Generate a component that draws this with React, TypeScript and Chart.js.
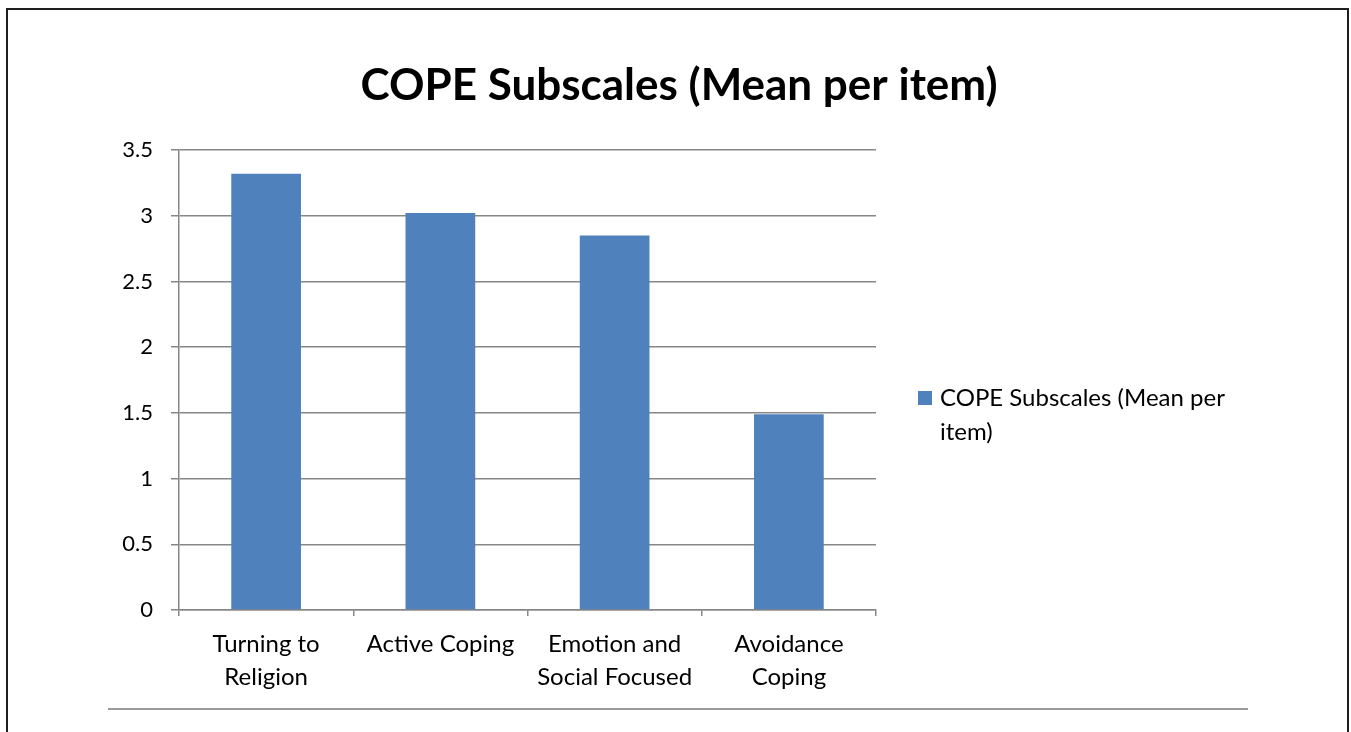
import { useEffect, useRef } from "react";
import { Chart, registerables } from "chart.js";

Chart.register(...registerables);

// Chart content
const chartTitle = "COPE Subscales (Mean per item)";
const seriesLabel = "COPE Subscales (Mean per item)";
const categories = [
  ["Turning to", "Religion"],
  ["Active Coping"],
  ["Emotion and", "Social Focused"],
  ["Avoidance", "Coping"],
];
const seriesValues = [3.32, 3.02, 2.85, 1.49];
const yTickValues = [0, 0.5, 1, 1.5, 2, 2.5, 3, 3.5];
const yTickLabels = ["0", "0.5", "1", "1.5", "2", "2.5", "3", "3.5"];

const FONT = "Lato, 'Open Sans', sans-serif";
const BAR_COLOR = "#4F81BD";
const GRID_COLOR = "#878787";

// Draws the centred title, the wrapped side legend and the footer rule.
const decorPlugin = {
  id: "decor",
  afterDraw(chart: any) {
    const ctx = chart.ctx as CanvasRenderingContext2D;
    const ds = chart.data.datasets[0];
    ctx.save();

    // title
    ctx.fillStyle = "#000";
    ctx.font = `bold 44px ${FONT}`;
    ctx.textAlign = "center";
    ctx.textBaseline = "middle";
    ctx.fillText(chartTitle, 679, 86);

    // legend: colour box + wrapped label
    const boxX = 918;
    const lineH = 34;
    ctx.font = `24px ${FONT}`;
    ctx.textAlign = "left";
    const words = String(ds.label).split(" ");
    const lines: string[] = [];
    let cur = "";
    for (const w of words) {
      const t = cur ? cur + " " + w : w;
      if (ctx.measureText(t).width > 300 && cur) {
        lines.push(cur);
        cur = w;
      } else cur = t;
    }
    if (cur) lines.push(cur);
    const firstY = 398;
    ctx.fillStyle = ds.backgroundColor;
    ctx.fillRect(boxX, firstY - 7, 14, 14);
    ctx.fillStyle = "#000";
    lines.forEach((l, i) => ctx.fillText(l, boxX + 22, firstY + i * lineH));

    // footer rule
    ctx.fillStyle = "#9a9a9a";
    ctx.fillRect(108, 708, 1140, 2);
    ctx.restore();
  },
};

export default function App() {
  const ref = useRef<HTMLCanvasElement | null>(null);

  useEffect(() => {
    if (!ref.current) return;
    const chart = new Chart(ref.current, {
      type: "bar",
      data: {
        labels: categories,
        datasets: [
          {
            label: seriesLabel,
            data: seriesValues,
            backgroundColor: BAR_COLOR,
            categoryPercentage: 1,
            barPercentage: 0.4,
          },
        ],
      },
      options: {
        responsive: false,
        animation: false,
        layout: { padding: { left: 0, right: 475, top: 150, bottom: 0 } },
        plugins: {
          legend: { display: false },
          title: { display: false },
          tooltip: { enabled: false },
        },
        scales: {
          x: {
            afterFit: (s: any) => {
              s.height = 122;
            },
            grid: {
              drawOnChartArea: false,
              drawTicks: true,
              tickLength: 6,
              color: GRID_COLOR,
              lineWidth: 1.5,
            },
            border: { color: GRID_COLOR, width: 1.5 },
            ticks: {
              color: "#000",
              font: { family: FONT, size: 24, lineHeight: 1.375 },
              padding: 12,
              maxRotation: 0,
              autoSkip: false,
            },
          },
          y: {
            min: 0,
            max: 3.5,
            afterFit: (s: any) => {
              s.width = 179;
            },
            afterBuildTicks: (s: any) => {
              s.ticks = yTickValues.map((v) => ({ value: v }));
            },
            grid: {
              color: GRID_COLOR,
              lineWidth: 1.5,
              tickLength: 8,
            },
            border: { color: GRID_COLOR, width: 1.5 },
            ticks: {
              color: "#000",
              font: { family: FONT, size: 22 },
              padding: 18,
              callback: (_v: any, i: number) => yTickLabels[i],
            },
          },
        },
      },
      plugins: [decorPlugin],
    });
    return () => chart.destroy();
  }, []);

  return (
    <div>
      <div
        style={{
          position: "absolute",
          left: 6,
          top: 8,
          width: 1343,
          height: 800,
          boxSizing: "border-box",
          border: "2px solid #1e1e1e",
        }}
      />
      <canvas
        ref={ref}
        width={1351}
        height={732}
        style={{ position: "absolute", left: 0, top: 0, width: 1351, height: 732 }}
      />
    </div>
  );
}
